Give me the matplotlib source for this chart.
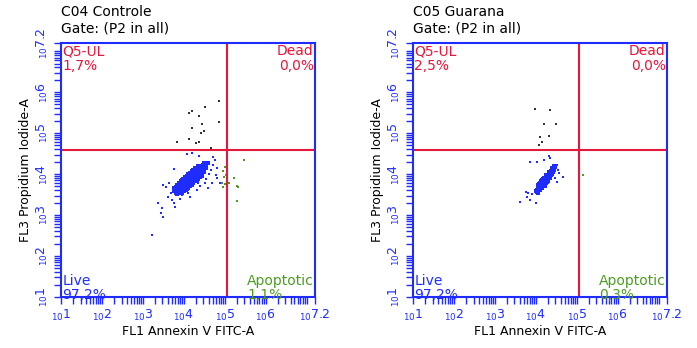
import matplotlib
matplotlib.use("Agg")
import matplotlib.pyplot as plt
from matplotlib.ticker import LogLocator, NullFormatter

# values are log10 of the channel intensities
titles = ["C04 Controle", "C05 Guarana"]
gate = "Gate: (P2 in all)"
xlabel = "FL1 Annexin V FITC-A"
ylabel = "FL3 Propidium Iodide-A"
quad_pct = [("1,7%", "0,0%", "97,2%", "1,1%"),
            ("2,5%", "0,0%", "97,2%", "0,3%")]
x_gate = [5.05, 5.04]
y_gate = [4.60, 4.60]
tick_exp = [1, 2, 3, 4, 5, 6, 7, 7.2]
tick_txt = ["1", "2", "3", "4", "5", "6", "", "7.2"]

# --- C04 Controle ---
c04_core_x = [3.84, 3.80, 3.76, 3.88, 3.84, 3.80, 3.76,
              3.95, 3.91, 3.88, 3.85, 3.81, 3.99, 3.96, 3.92, 3.88, 3.84,
              4.04, 4.00, 3.96, 3.92, 3.88, 4.08, 4.04, 4.00, 3.96, 3.92,
              4.11, 4.07, 4.03, 3.99, 3.95, 4.15, 4.11, 4.07, 4.03, 3.99,
              4.19, 4.15, 4.11, 4.07, 4.03, 4.23, 4.19, 4.15, 4.11, 4.07,
              4.27, 4.23, 4.19, 4.15, 4.11, 4.31, 4.27, 4.23, 4.19, 4.15,
              4.35, 4.31, 4.27, 4.23, 4.19, 4.39, 4.35, 4.31, 4.27, 4.23,
              4.43, 4.39, 4.35, 4.31, 4.27, 4.45, 4.39, 4.35, 4.31,
              4.48, 4.42, 4.38, 4.34, 4.50, 4.46, 4.42, 4.54, 4.50, 4.46,
              4.54, 4.50, 4.58]
c04_core_y = [3.51, 3.55, 3.59, 3.55, 3.59, 3.63, 3.67,
              3.55, 3.58, 3.62, 3.66, 3.69, 3.58, 3.62, 3.66, 3.70, 3.74,
              3.60, 3.65, 3.69, 3.73, 3.78, 3.64, 3.69, 3.73, 3.77, 3.82,
              3.67, 3.72, 3.76, 3.80, 3.85, 3.71, 3.76, 3.80, 3.84, 3.89,
              3.74, 3.79, 3.83, 3.87, 3.92, 3.78, 3.83, 3.87, 3.91, 3.96,
              3.82, 3.87, 3.91, 3.95, 4.00, 3.85, 3.90, 3.94, 3.98, 4.03,
              3.89, 3.94, 3.98, 4.02, 4.07, 3.92, 3.97, 4.01, 4.05, 4.10,
              3.96, 4.01, 4.05, 4.09, 4.14, 4.01, 4.08, 4.12, 4.16,
              4.05, 4.12, 4.16, 4.20, 4.11, 4.15, 4.19, 4.15, 4.19, 4.23,
              4.22, 4.26, 4.26]
c04_blue_x = [4.08, 4.19, 4.38, 4.72, 3.75, 3.50, 3.64, 3.56, 3.37, 3.47,
              3.43, 3.50, 3.60, 3.77, 3.78, 3.90, 3.23, 4.60, 4.68, 4.78,
              4.80, 4.82, 4.72, 4.76, 4.35, 4.31, 4.11, 4.03, 4.15, 3.82,
              3.70, 3.86, 4.88, 4.51, 4.62, 4.55, 3.68, 3.95, 4.40, 4.66]
c04_blue_y = [4.49, 4.52, 4.44, 4.42, 4.12, 3.73, 3.78, 3.68, 3.29, 3.17,
              3.06, 2.96, 3.43, 3.29, 3.19, 3.38, 2.51, 3.65, 3.78, 3.98,
              3.90, 4.14, 4.22, 4.34, 3.78, 3.61, 3.53, 3.57, 3.45, 3.53,
              3.37, 3.53, 3.78, 3.78, 4.00, 3.88, 3.55, 3.48, 3.70, 4.10]
c04_black_x = [4.85, 4.51, 4.19, 4.12, 4.38, 4.85, 4.45, 4.19, 4.48, 4.41,
               4.12, 3.82, 4.38, 4.30, 4.67]
c04_black_y = [5.78, 5.63, 5.53, 5.49, 5.42, 5.27, 5.22, 5.12, 5.05, 5.01,
               4.86, 4.79, 4.79, 4.75, 4.64]
c04_green_x = [5.47, 5.00, 4.96, 5.02, 4.98, 4.94, 5.00, 4.96, 5.22, 5.11,
               5.30, 5.33, 5.29]
c04_green_y = [4.34, 4.17, 4.08, 3.98, 3.94, 3.79, 3.75, 3.68, 3.91, 3.79,
               3.72, 3.68, 3.35]

# --- C05 Guarana ---
c05_core_x = [4.04, 4.02, 4.00, 4.04, 4.02, 4.09, 4.07, 4.04,
              4.10, 4.09, 4.06, 4.16, 4.13, 4.11, 4.09, 4.06,
              4.16, 4.13, 4.11, 4.08, 4.21, 4.18, 4.16, 4.13, 4.11,
              4.20, 4.18, 4.15, 4.13, 4.25, 4.22, 4.20, 4.18, 4.15,
              4.25, 4.22, 4.20, 4.17, 4.29, 4.27, 4.25, 4.22, 4.20,
              4.29, 4.27, 4.24, 4.34, 4.31, 4.29, 4.27, 4.24,
              4.33, 4.31, 4.28, 4.38, 4.36, 4.34, 4.31,
              4.39, 4.36, 4.33, 4.41, 4.38, 4.36, 4.42, 4.40,
              4.45, 4.43, 4.40, 4.45, 4.42, 4.47, 4.45]
c05_core_y = [3.55, 3.57, 3.59, 3.60, 3.62, 3.61, 3.63, 3.65,
              3.65, 3.66, 3.68, 3.66, 3.67, 3.69, 3.71, 3.73,
              3.71, 3.72, 3.74, 3.76, 3.72, 3.73, 3.75, 3.77, 3.79,
              3.76, 3.78, 3.80, 3.82, 3.78, 3.79, 3.81, 3.83, 3.85,
              3.81, 3.84, 3.86, 3.88, 3.84, 3.86, 3.88, 3.89, 3.91,
              3.88, 3.91, 3.93, 3.90, 3.92, 3.94, 3.96, 3.97,
              3.95, 3.97, 3.99, 3.97, 3.98, 4.00, 4.02,
              4.01, 4.03, 4.05, 4.04, 4.06, 4.08, 4.09, 4.11,
              4.10, 4.12, 4.14, 4.15, 4.16, 4.18, 4.19]
c05_blue_x = [3.86, 4.02, 4.20, 4.33, 4.34, 4.51, 4.55, 4.57, 4.67, 4.51,
              4.47, 4.30, 4.22, 3.61, 3.75, 3.78, 3.86, 4.01, 3.90, 3.81]
c05_blue_y = [4.30, 4.30, 4.34, 4.45, 4.39, 4.22, 4.10, 4.03, 3.92, 3.80,
              3.90, 3.78, 3.69, 3.31, 3.57, 3.45, 3.37, 3.29, 3.51, 3.53]
c05_black_x = [3.98, 4.34, 4.20, 4.49, 4.09, 4.31, 4.16, 4.08]
c05_black_y = [5.60, 5.56, 5.23, 5.23, 4.90, 4.94, 4.78, 4.72]
c05_green_x = [5.14]
c05_green_y = [3.98]

blue = "#1f2cff"
red = "#e5173a"
green = "#4c9c22"

panels = [
    (c04_core_x, c04_core_y, c04_blue_x, c04_blue_y, c04_black_x, c04_black_y,
     c04_green_x, c04_green_y),
    (c05_core_x, c05_core_y, c05_blue_x, c05_blue_y, c05_black_x, c05_black_y,
     c05_green_x, c05_green_y),
]

fig = plt.figure(figsize=(6.97, 3.48), dpi=100)
lefts = [61 / 697, 413 / 697]

for i in range(2):
    ax = fig.add_axes([lefts[i], 51 / 348, 254 / 697, 254 / 348])
    cx, cy, bx, by, kx, ky, gx, gy = panels[i]
    p = lambda v: [10 ** a for a in v]
    ax.scatter(p(cx), p(cy), s=7, marker="s", color=blue, linewidths=0)
    ax.scatter(p(bx), p(by), s=2.5, marker="s", color=blue, linewidths=0)
    ax.scatter(p(kx), p(ky), s=2.5, marker="s", color="#333333", linewidths=0)
    ax.scatter(p(gx), p(gy), s=2.5, marker="s", color=green, linewidths=0)

    ax.set_xscale("log")
    ax.set_yscale("log")
    ax.set_xlim(10 ** 1, 10 ** 7.2)
    ax.set_ylim(10 ** 1, 10 ** 7.2)
    ax.axvline(10 ** x_gate[i], color=red, lw=1.5)
    ax.axhline(10 ** y_gate[i], color=red, lw=1.5)

    for sp in ax.spines.values():
        sp.set_color(blue)
        sp.set_linewidth(1.5)

    labels = [(r"$_{10}\mathrm{%s}$" % t) if t else "" for t in tick_txt]
    ticks = [10 ** e for e in tick_exp]
    ax.set_xticks(ticks)
    ax.set_xticklabels(labels)
    ax.set_yticks(ticks)
    ax.set_yticklabels(labels, rotation=90, va="center")
    ax.xaxis.set_minor_locator(LogLocator(base=10, subs=range(2, 10), numticks=20))
    ax.yaxis.set_minor_locator(LogLocator(base=10, subs=range(2, 10), numticks=20))
    ax.xaxis.set_minor_formatter(NullFormatter())
    ax.yaxis.set_minor_formatter(NullFormatter())
    ax.tick_params(which="both", colors=blue, labelsize=9, width=1)
    ax.tick_params(which="major", length=5, pad=3)
    ax.tick_params(which="minor", length=5)

    ax.set_xlabel(xlabel, fontsize=9, labelpad=1)
    ax.set_ylabel(ylabel, fontsize=9, labelpad=2)

    ax.text(0, 1.03, titles[i] + "\n" + gate, transform=ax.transAxes,
            fontsize=10, ha="left", va="bottom", linespacing=1.25)

    ul, ur, ll, lr = quad_pct[i]
    ax.text(0.005, 0.995, "Q5-UL\n" + ul, transform=ax.transAxes, color=red,
            fontsize=10, ha="left", va="top", linespacing=1.05)
    ax.text(0.995, 0.995, "Dead\n" + ur, transform=ax.transAxes, color=red,
            fontsize=10, ha="right", va="top", linespacing=1.05,
            multialignment="right")
    ax.text(0.005, -0.02, "Live\n" + ll, transform=ax.transAxes, color=blue,
            fontsize=10, ha="left", va="bottom", linespacing=1.05)
    ax.text(0.995, -0.02, "Apoptotic\n" + lr, transform=ax.transAxes, color=green,
            fontsize=10, ha="right", va="bottom", linespacing=1.05,
            multialignment="left")

fig.savefig("out.png", dpi=100)
